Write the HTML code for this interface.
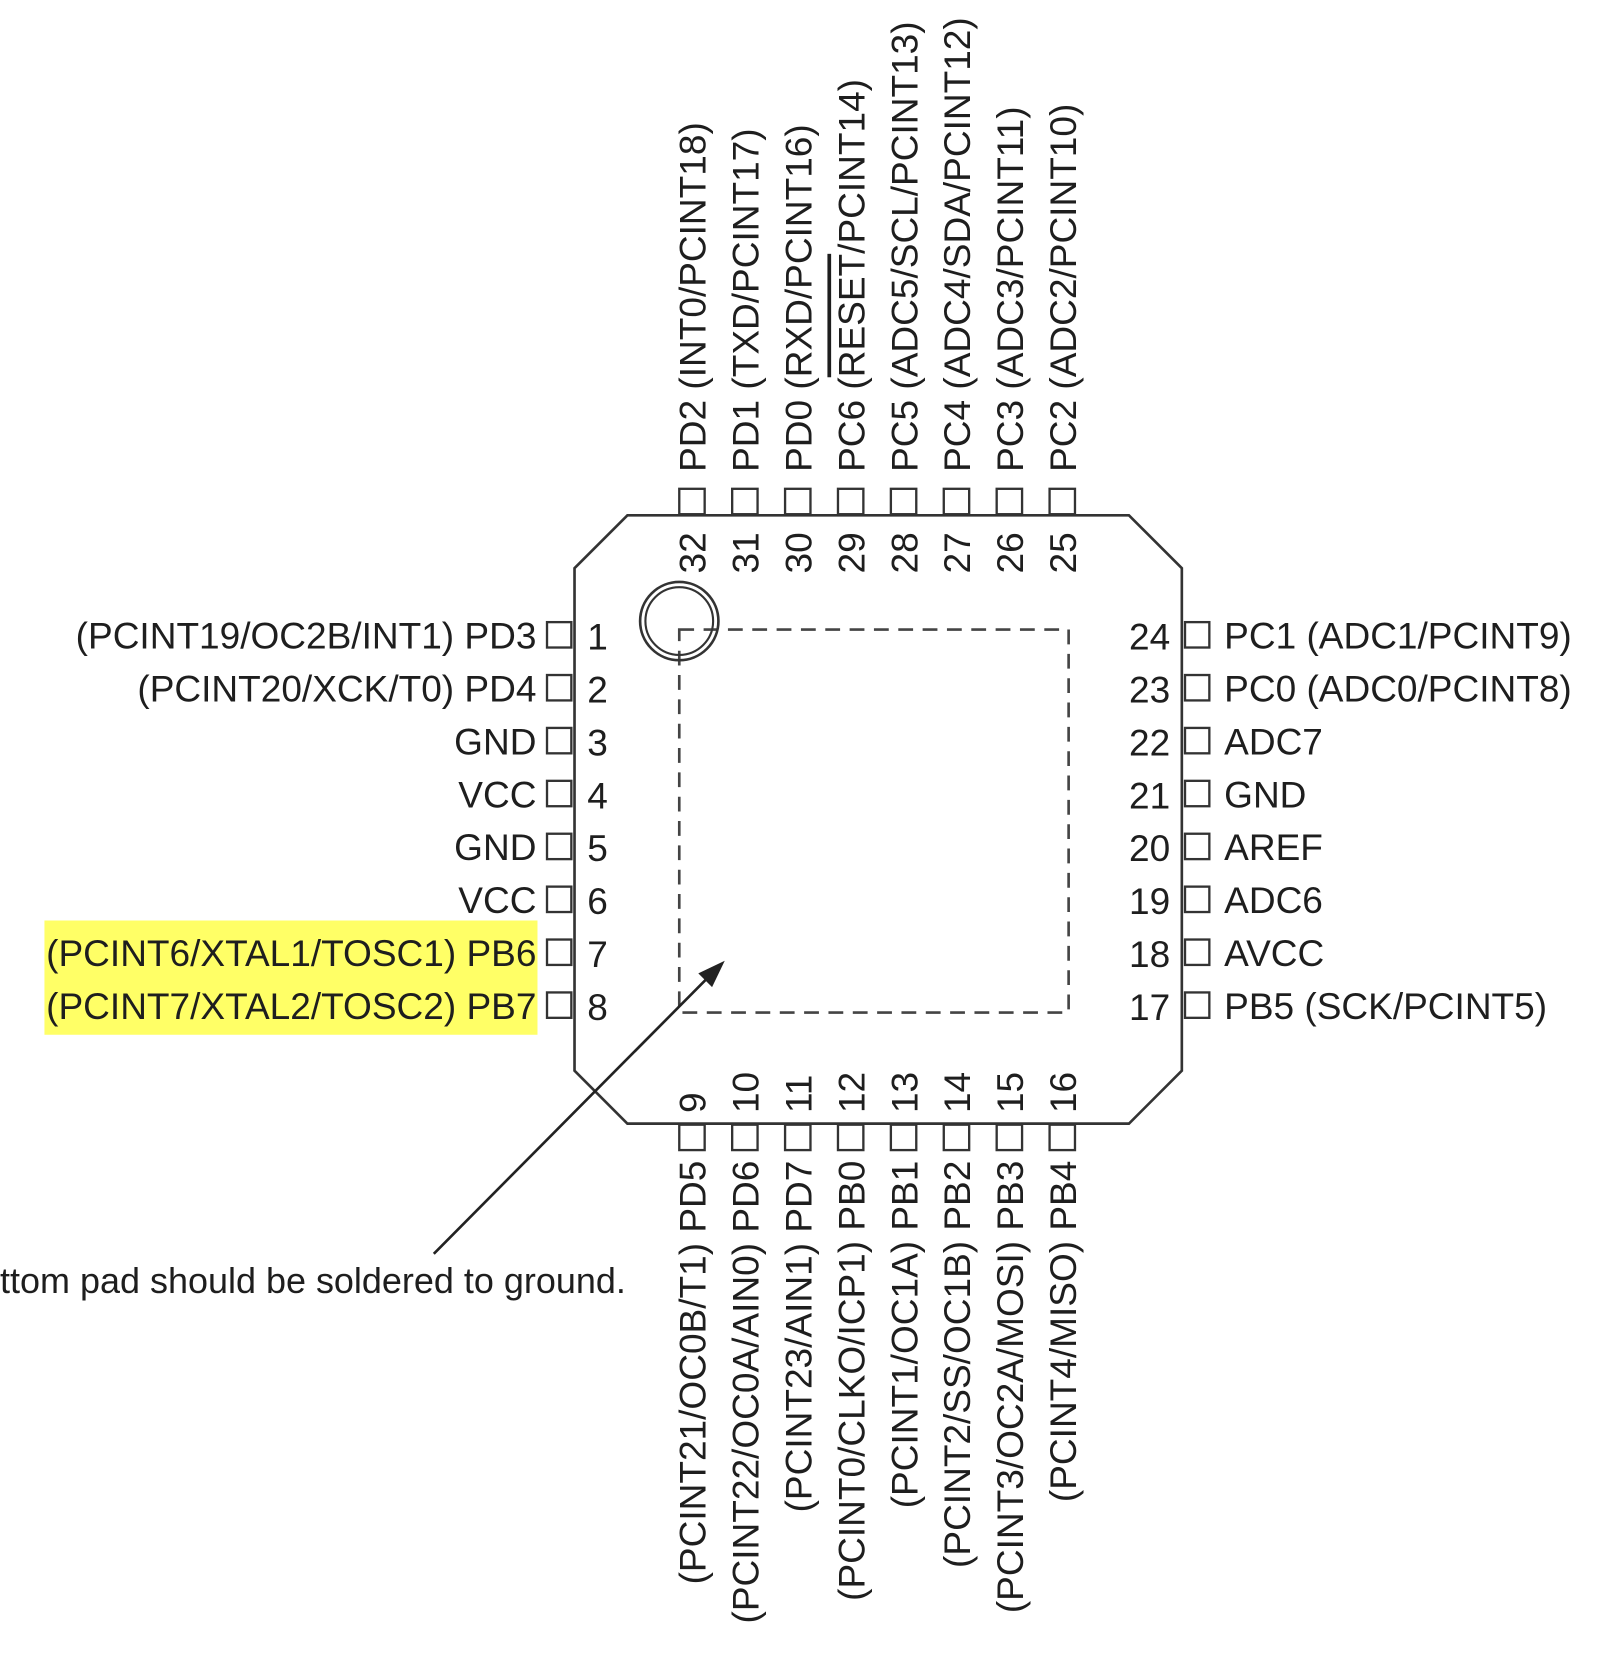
<!DOCTYPE html>
<html><head><meta charset="utf-8"><style>
html,body{margin:0;padding:0;background:#fff;}
svg{display:block;}
text{font-family:"Liberation Sans",Arial,sans-serif;font-size:35px;fill:#1e1e1e;}
</style></head><body>
<svg id="chip" width="1604" height="1659" viewBox="0 0 1516 1568" xmlns="http://www.w3.org/2000/svg">
<rect x="42" y="870" width="466" height="108" fill="#ffff66"/>
<path d="M593,487 L1067,487 L1117,537 L1117,1012 L1067,1062 L593,1062 L543,1012 L543,537 Z" fill="none" stroke="#333" stroke-width="2.5"/>
<rect x="642" y="595" width="368" height="362" fill="none" stroke="#444" stroke-width="2.5" stroke-dasharray="14,9"/>
<circle cx="642" cy="587" r="37" fill="none" stroke="#333" stroke-width="2.5"/>
<circle cx="642" cy="587" r="32" fill="none" stroke="#333" stroke-width="2"/>
<line x1="410" y1="1185" x2="676" y2="917" stroke="#222" stroke-width="2.5"/>
<polygon points="685,908 660,920 673,933" fill="#222"/>
<text x="0" y="1222" style="font-size:34px">ttom pad should be soldered to ground.</text>
<g id="pins"></g>
</svg>
<script>
const leftLabels=["(PCINT19/OC2B/INT1) PD3","(PCINT20/XCK/T0) PD4","GND","VCC","GND","VCC","(PCINT6/XTAL1/TOSC1) PB6","(PCINT7/XTAL2/TOSC2) PB7"];
const bottomLabels=["(PCINT21/OC0B/T1) PD5","(PCINT22/OC0A/AIN0) PD6","(PCINT23/AIN1) PD7","(PCINT0/CLKO/ICP1) PB0","(PCINT1/OC1A) PB1","(PCINT2/SS/OC1B) PB2","(PCINT3/OC2A/MOSI) PB3","(PCINT4/MISO) PB4"];
const rightLabels=["PB5 (SCK/PCINT5)","AVCC","ADC6","AREF","GND","ADC7","PC0 (ADC0/PCINT8)","PC1 (ADC1/PCINT9)"];
const topLabels=["PC2 (ADC2/PCINT10)","PC3 (ADC3/PCINT11)","PC4 (ADC4/SDA/PCINT12)","PC5 (ADC5/SCL/PCINT13)","PC6 (RESET/PCINT14)","PD0 (RXD/PCINT16)","PD1 (TXD/PCINT17)","PD2 (INT0/PCINT18)"];
const NS="http://www.w3.org/2000/svg";
const g=document.getElementById('pins');
function el(tag,attrs,txt){const e=document.createElementNS(NS,tag);for(const k in attrs)e.setAttribute(k,attrs[k]);if(txt!==undefined)e.textContent=txt;g.appendChild(e);return e;}
const sq={fill:"#fff",stroke:"#333","stroke-width":"2.2"};
leftLabels.forEach((lab,i)=>{const y=600+i*50;const n=i+1;
 let r=el('rect',Object.assign({x:517,y:y-12,width:23,height:24},sq));
 
 
 let t=el('text',{x:507,y:y+13,'text-anchor':'end',fill:(i>=6?'#8f8f28':'#1e1e1e')},lab);
 
 
 let nt=el('text',{x:555,y:y+14},String(n));
 
 
});
bottomLabels.forEach((lab,i)=>{const x=654+i*50;const n=i+9;
 let r=el('rect',Object.assign({x:x-12,y:1063,width:24,height:24},sq));
 
 
 let t=el('text',{x:0,y:0,'text-anchor':'end',transform:'translate('+(x+13)+',1097) rotate(-90)'},lab);
 
 
 let nt=el('text',{x:0,y:0,transform:'translate('+(x+13)+',1052) rotate(-90)'},String(n));
 
 
});
rightLabels.forEach((lab,i)=>{const y=950-i*50;const n=i+17;
 let r=el('rect',Object.assign({x:1120,y:y-12,width:23,height:24},sq));
 
 
 let t=el('text',{x:1157,y:y+13},lab);
 
 
 let nt=el('text',{x:1106,y:y+14,'text-anchor':'end'},String(n));
 
 
});
topLabels.forEach((lab,i)=>{const x=1004-i*50;const n=i+25;
 let r=el('rect',Object.assign({x:x-12,y:462,width:24,height:24},sq));
 
 
 let t=el('text',{x:0,y:0,transform:'translate('+(x+13)+',446) rotate(-90)'});
 
 
 if(lab.indexOf('RESET')>=0){
   const a=document.createElementNS(NS,'tspan');a.textContent='PC6 (';t.appendChild(a);
   const b=document.createElementNS(NS,'tspan');b.textContent='RESET';b.setAttribute('text-decoration','overline');t.appendChild(b);
   const c=document.createElementNS(NS,'tspan');c.textContent='/PCINT14)';t.appendChild(c);
 } else t.textContent=lab;
 let nt=el('text',{x:0,y:0,transform:'translate('+(x+13)+',542) rotate(-90)'},String(n));
 
 
});
</script>
</body></html>
